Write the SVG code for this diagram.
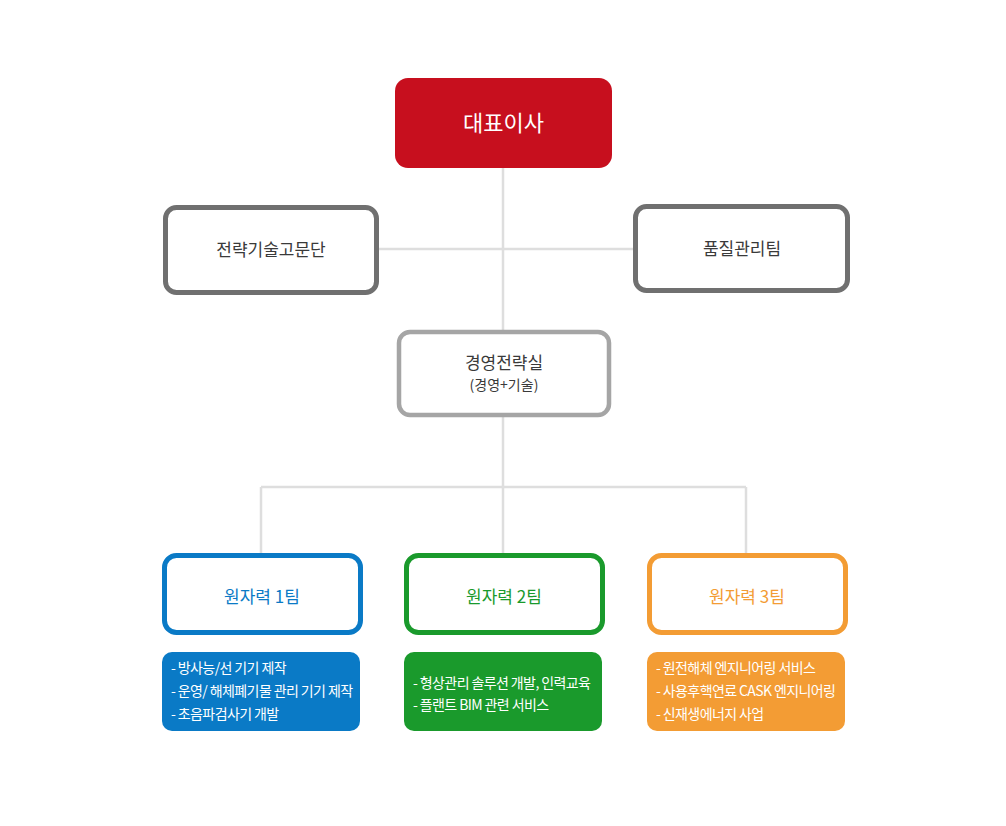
<svg xmlns="http://www.w3.org/2000/svg" width="1006" height="826" viewBox="0 0 1006 826">
<style>
text{font-family:"Noto Sans CJK KR","Noto Sans",sans-serif}
.lbl{font-size:17px;text-anchor:middle;fill:#3a3a3a}
.conn{stroke:#dedede;stroke-width:2.5;fill:none}
.desc{font-size:14px;fill:#fff;letter-spacing:-0.6px}
.team{fill:#fff;stroke-width:5}
.gray{fill:#fff;stroke:#707070;stroke-width:5}
</style>
<rect width="1006" height="826" fill="#fff"/>
<g id="connectors">
<path class="conn" d="M503 168V331M377 249H634M503 416V487M261 487H746M261 487V553M503 487V553M746 487V553"/>
</g>
<g id="ceo">
<rect x="395" y="78" width="217" height="90" rx="13" fill="#c70f1e"/>
<text x="503.5" y="131" font-size="22" text-anchor="middle" fill="#fff">대표이사</text>
</g>
<g id="advisory">
<rect class="gray" x="165.5" y="207.5" width="211" height="85" rx="11"/>
<text class="lbl" x="271" y="256">전략기술고문단</text>
</g>
<g id="quality">
<rect class="gray" x="635.5" y="206.5" width="212" height="84" rx="11"/>
<text class="lbl" x="742" y="255">품질관리팀</text>
</g>
<g id="strategy">
<rect x="399" y="332" width="210" height="83" rx="11" fill="#fff" stroke="#a5a5a5" stroke-width="4.5"/>
<text class="lbl" x="504" y="369">경영전략실</text>
<text x="504" y="390" font-size="14" text-anchor="middle" fill="#3a3a3a">(경영+기술)</text>
</g>
<g id="team1">
<rect class="team" x="164.5" y="555.5" width="196" height="77" rx="12" stroke="#0a7ac6"/>
<text class="lbl" x="262" y="603" style="fill:#0a7ac6">원자력 1팀</text>
</g>
<g id="team2">
<rect class="team" x="406.5" y="555.5" width="196" height="77" rx="12" stroke="#1a9a2c"/>
<text class="lbl" x="504" y="603" style="fill:#1a9a2c">원자력 2팀</text>
</g>
<g id="team3">
<rect class="team" x="649.5" y="555.5" width="196" height="77" rx="12" stroke="#f39c34"/>
<text class="lbl" x="747" y="603" style="fill:#f39c34">원자력 3팀</text>
</g>
<g id="desc1">
<rect x="162" y="652" width="198" height="79" rx="10" fill="#0a7ac6"/>
<text class="desc" x="171" y="673">- 방사능/선 기기 제작</text>
<text class="desc" x="171" y="696">- 운영/ 해체폐기물 관리 기기 제작</text>
<text class="desc" x="171" y="719">- 초음파검사기 개발</text>
</g>
<g id="desc2">
<rect x="404" y="652" width="198" height="79" rx="10" fill="#1a9a2c"/>
<text class="desc" x="413" y="688">- 형상관리 솔루션 개발, 인력교육</text>
<text class="desc" x="413" y="710">- 플랜트 BIM 관련 서비스</text>
</g>
<g id="desc3">
<rect x="647" y="652" width="198" height="79" rx="10" fill="#f39c34"/>
<text class="desc" x="656" y="673">- 원전해체 엔지니어링 서비스</text>
<text class="desc" x="656" y="696">- 사용후핵연료 CASK 엔지니어링</text>
<text class="desc" x="656" y="719">- 신재생에너지 사업</text>
</g>
</svg>
